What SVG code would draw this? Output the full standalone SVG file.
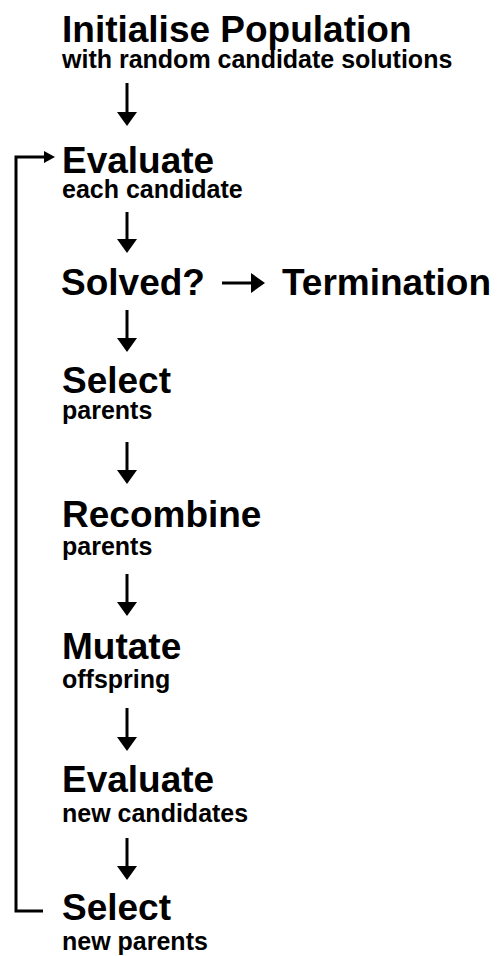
<svg xmlns="http://www.w3.org/2000/svg" width="499" height="956" viewBox="0 0 499 956">
<style>
.t{font-family:"Liberation Sans",Arial,sans-serif;font-weight:bold;font-size:37px;fill:#000}
.s{font-family:"Liberation Sans",Arial,sans-serif;font-weight:bold;font-size:25px;fill:#000}
.c{stroke:#000;stroke-width:3;fill:none}
</style>
<defs>
<marker id="ah" markerUnits="userSpaceOnUse" markerWidth="14" markerHeight="20" refX="10" refY="10" orient="auto" viewBox="0 0 14 20">
<path d="M0,0 L14,10 L0,20 z" fill="#000"/>
</marker>
<marker id="ahs" markerUnits="userSpaceOnUse" markerWidth="11" markerHeight="12" refX="7" refY="6" orient="auto" viewBox="0 0 11 12">
<path d="M0,0 L11,6 L0,12 z" fill="#000"/>
</marker>
</defs>
<rect width="499" height="956" fill="#fff"/>
<g id="connectors">
<line class="c" x1="127" y1="83" x2="127" y2="122" marker-end="url(#ah)"/>
<line class="c" x1="127" y1="212" x2="127" y2="249" marker-end="url(#ah)"/>
<line class="c" x1="127" y1="310" x2="127" y2="348" marker-end="url(#ah)"/>
<line class="c" x1="127" y1="442" x2="127" y2="480" marker-end="url(#ah)"/>
<line class="c" x1="127" y1="574" x2="127" y2="612" marker-end="url(#ah)"/>
<line class="c" x1="127" y1="708" x2="127" y2="747" marker-end="url(#ah)"/>
<line class="c" x1="127" y1="838" x2="127" y2="876" marker-end="url(#ah)"/>
<line class="c" x1="222" y1="283" x2="261" y2="283" marker-end="url(#ah)"/>
<path class="c" d="M43,911 H16 V157 H51" marker-end="url(#ahs)"/>
</g>
<g id="init">
<text class="t" x="62" y="42">Initialise Population</text>
<text class="s" x="62" y="68">with random candidate solutions</text>
</g>
<g id="evaluate1">
<text class="t" x="62" y="173">Evaluate</text>
<text class="s" x="62" y="198">each candidate</text>
</g>
<g id="solved">
<text class="t" x="61" y="295">Solved?</text>
</g>
<g id="termination">
<text class="t" x="282" y="295">Termination</text>
</g>
<g id="select1">
<text class="t" x="62" y="393">Select</text>
<text class="s" x="62" y="419">parents</text>
</g>
<g id="recombine">
<text class="t" x="62" y="527">Recombine</text>
<text class="s" x="62" y="555">parents</text>
</g>
<g id="mutate">
<text class="t" x="62" y="659">Mutate</text>
<text class="s" x="62" y="688">offspring</text>
</g>
<g id="evaluate2">
<text class="t" x="62" y="792">Evaluate</text>
<text class="s" x="62" y="822">new candidates</text>
</g>
<g id="select2">
<text class="t" x="62" y="920">Select</text>
<text class="s" x="62" y="950">new parents</text>
</g>
</svg>
